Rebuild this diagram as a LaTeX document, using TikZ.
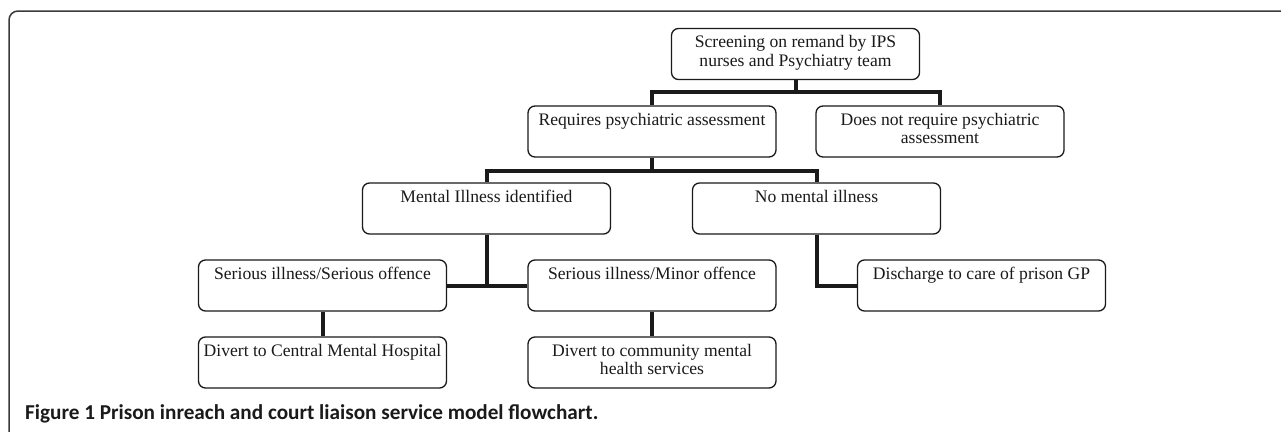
\documentclass[tikz,border=0pt]{standalone}
\usepackage{fontspec}
\usetikzlibrary{calc,backgrounds}
\setmainfont{Liberation Serif}
\newfontfamily\capfont{Carlito}
\definecolor{inkc}{HTML}{1A1A1A}
\definecolor{framec}{HTML}{3A3A3A}
\newcommand{\boxtext}[1]{\begin{minipage}[t][51pt][t]{248pt}\centering\fontsize{17.6}{18.6}\selectfont\rule{0pt}{19pt}#1\end{minipage}}
\tikzset{
  box/.style={draw=inkc, line width=1.3pt, rounded corners=7pt, inner sep=0pt, text=inkc, fill=white},
  link/.style={draw=inkc, line width=4pt},
  framebox/.style={draw=framec, line width=1.5pt, rounded corners=9pt},
  captext/.style={anchor=base west, inner sep=0pt, text=inkc, font=\capfont\bfseries\fontsize{21.2}{24}\selectfont}
}
\begin{document}
\begin{tikzpicture}[x=1pt,y=-1pt]
\useasboundingbox (0,0) rectangle (1281,431);
\clip (0,0) rectangle (1281,431);

\node[box] (top) at (795.5,54) {\boxtext{Screening on remand by IPS\\nurses and Psychiatry team}};
\node[box] (req) at (652,131.5) {\boxtext{Requires psychiatric assessment}};
\node[box] (notreq) at (940,131.5) {\boxtext{Does not require psychiatric\\assessment}};
\node[box] (mi) at (486.5,208.5) {\boxtext{Mental Illness identified}};
\node[box] (nmi) at (816.5,208.5) {\boxtext{No mental illness}};
\node[box] (ss) at (322.5,285.5) {\boxtext{Serious illness/Serious offence}};
\node[box] (sm) at (652,285.5) {\boxtext{Serious illness/Minor offence}};
\node[box] (dg) at (981.5,285.5) {\boxtext{Discharge to care of prison GP}};
\node[box] (dc) at (322.5,362.5) {\boxtext{Divert to Central Mental Hospital}};
\node[box] (dcm) at (652,362.5) {\boxtext{Divert to community mental\\health services}};

\node[captext] (cap) at (25,419) {Figure 1 Prison inreach and court liaison service model flowchart.};

\begin{scope}[on background layer]
\fill[white] (0,0) rectangle (1281,431);
\draw[framebox] (9,11) rectangle (1300,450);

\coordinate (b1) at ($(top.south)+(0,12)$);
\draw[link] (top.south) -- (b1);
\draw[link] (b1) -| (req.north);
\draw[link] (b1) -| (notreq.north);

\coordinate (b2) at ($(req.south)+(0,13)$);
\draw[link] (req.south) -- (b2);
\draw[link] (b2) -| (mi.north);
\draw[link] (b2) -| (nmi.north);

\draw[link] (mi.south) -- (mi.south |- ss.east);
\draw[link] (ss.east) -- (sm.west);

\draw[link] (nmi.south) |- (dg.west);

\draw[link] (ss.south) -- (dc.north);
\draw[link] (sm.south) -- (dcm.north);
\end{scope}
\end{tikzpicture}
\end{document}
